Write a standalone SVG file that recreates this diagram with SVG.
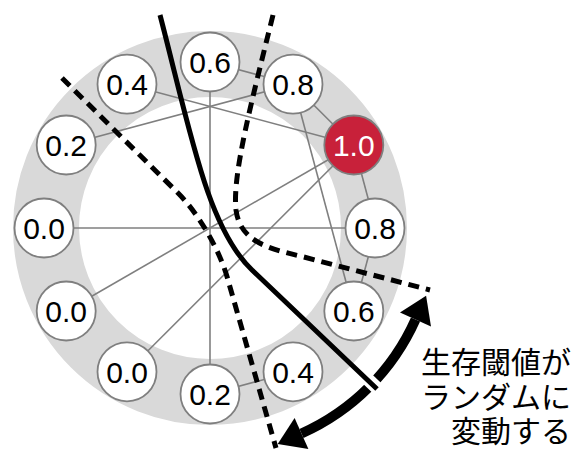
<svg xmlns="http://www.w3.org/2000/svg" width="586" height="452" viewBox="0 0 586 452">
<style>
.edge{stroke:#7f7f7f;stroke-width:1.6;fill:none}
.node circle{fill:#ffffff;stroke:#7f7f7f;stroke-width:1.8}
.node text{font-family:"Liberation Sans",Arial,sans-serif;font-size:30px;fill:#000;text-anchor:middle}
.node.hot circle{fill:#c8213a}
.node.hot text{fill:#ffffff}
.dash{fill:none;stroke:#000;stroke-width:5;stroke-dasharray:11 7}
.jp{font-family:"Noto Sans CJK JP",sans-serif;font-size:30px;fill:#000;text-anchor:end}
</style>
<rect width="586" height="452" fill="#ffffff"/>
<circle id="ring" cx="210" cy="228" r="164" fill="none" stroke="#d9d9d9" stroke-width="66"/>
<g id="connectors">
<line class="edge" x1="210" y1="62" x2="293" y2="84.2"/>
<line class="edge" x1="293" y1="84.2" x2="353.8" y2="145"/>
<line class="edge" x1="353.8" y1="145" x2="376" y2="228"/>
<line class="edge" x1="376" y1="228" x2="353.8" y2="311"/>
<line class="edge" x1="210" y1="394" x2="293" y2="371.8"/>
<line class="edge" x1="210" y1="62" x2="210" y2="394"/>
<line class="edge" x1="127" y1="84.2" x2="353.8" y2="145"/>
<line class="edge" x1="66.2" y1="145" x2="293" y2="84.2"/>
<line class="edge" x1="44" y1="228" x2="376" y2="228"/>
<line class="edge" x1="66.2" y1="311" x2="353.8" y2="145"/>
<line class="edge" x1="127" y1="371.8" x2="353.8" y2="145"/>
<line class="edge" x1="293" y1="84.2" x2="353.8" y2="311"/>
</g>
<g id="n90" class="node"><circle cx="210" cy="62" r="29.5"/><text x="210" y="73">0.6</text></g>
<g id="n60" class="node"><circle cx="293" cy="84.2" r="29.5"/><text x="293" y="95">0.8</text></g>
<g id="n30" class="node hot"><circle cx="353.8" cy="145" r="29.5"/><text x="353.8" y="156">1.0</text></g>
<g id="n0" class="node"><circle cx="375" cy="228" r="29.5"/><text x="375" y="239">0.8</text></g>
<g id="nm30" class="node"><circle cx="353.8" cy="311" r="29.5"/><text x="353.8" y="322">0.6</text></g>
<g id="nm60" class="node"><circle cx="293" cy="371.8" r="29.5"/><text x="293" y="383">0.4</text></g>
<g id="nm90" class="node"><circle cx="210" cy="394" r="29.5"/><text x="210" y="405">0.2</text></g>
<g id="nm120" class="node"><circle cx="127" cy="371.8" r="29.5"/><text x="127" y="383">0.0</text></g>
<g id="nm150" class="node"><circle cx="66.2" cy="311" r="29.5"/><text x="66.2" y="322">0.0</text></g>
<g id="n180" class="node"><circle cx="44" cy="228" r="29.5"/><text x="44" y="239">0.0</text></g>
<g id="n150" class="node"><circle cx="66.2" cy="145" r="29.5"/><text x="66.2" y="156">0.2</text></g>
<g id="n120" class="node"><circle cx="127" cy="84.2" r="29.5"/><text x="127" y="95">0.4</text></g>
<g id="thresholds">
<path class="dash" d="M273,15 C252,100 232,175 236,210 C240,240 265,248 300,256 L430,290"/>
<path class="dash" d="M62,78 L178,193 C198,213 220,250 228,280 L276,448"/>
<path d="M415.5,319.5 A225,225 0 0 1 301.5,433.5" fill="none" stroke="#000" stroke-width="10"/>
<polygon points="426.1,295.7 431,326.4 400,312.6" fill="#000"/>
<polygon points="277.7,444.1 308.4,449 294.6,418" fill="#000"/>
<line x1="356" y1="368" x2="379" y2="390" stroke="#fff" stroke-width="13"/>
<path d="M160,15 C190,130 207,227 252,270 L377,389" fill="none" stroke="#000" stroke-width="5"/>
</g>
<g id="label">
<text class="jp" x="571" y="373">生存閾値が</text>
<text class="jp" x="571" y="407.5">ランダムに</text>
<text class="jp" x="571" y="442">変動する</text>
</g>
</svg>
